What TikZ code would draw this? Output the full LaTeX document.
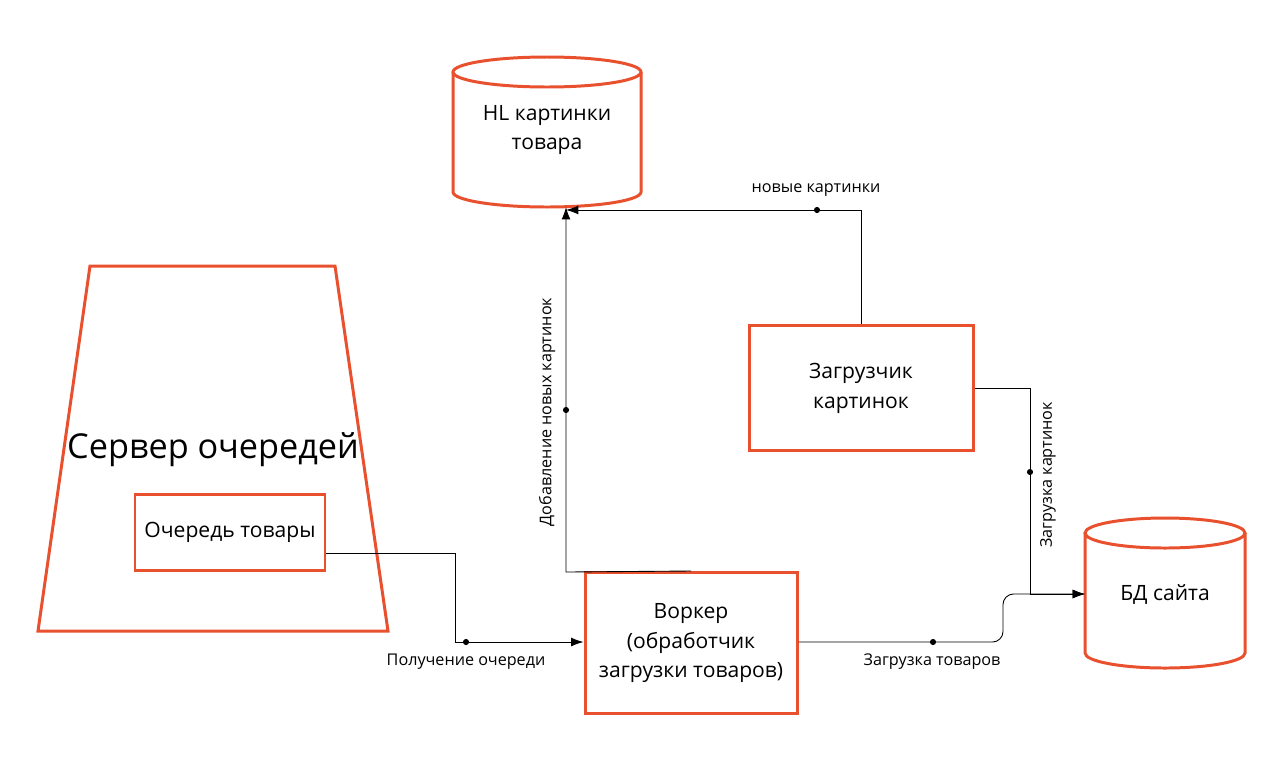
\documentclass[tikz,border=0pt]{standalone}
\usepackage{fontspec}
\setmainfont{Open Sans}
\usetikzlibrary{arrows.meta,positioning}
\definecolor{boxred}{HTML}{E8502E}
\tikzset{
  box/.style={draw=boxred, line width=1.7pt, align=center, font=\fontsize{12}{17}\selectfont},
  link/.style={draw=black, line width=0.5pt, -{Latex[length=7pt,width=5pt]}},
  lbl/.style={font=\fontsize{9.2}{11}\selectfont, inner sep=1pt},
  pin/.style={circle, fill=black, inner sep=0pt, minimum size=3.5pt}
}
\begin{document}
\begin{tikzpicture}[x=0.02cm,y=-0.02cm]
\useasboundingbox (0,0) rectangle (1280,778);
% server of queues
\draw [boxred, line width=1.7pt] (90,266) -- (335,266) -- (388,631) -- (38,631) -- cycle;
\node (server) at (213,450) {\fontsize{19.5}{24}\selectfont Сервер очередей};
\node [box, minimum width=190*0.02cm, minimum height=76*0.02cm] (queue) at (230,532) {Очередь товары};
% storages
\draw [boxred, line width=1.7pt] (453,72) -- (453,192) arc[start angle=180, end angle=0, x radius=94, y radius=15] -- (641,72);
\draw [boxred, line width=1.7pt] (547,72) ellipse [x radius=94, y radius=15];
\node [align=center, font=\fontsize{12}{17}\selectfont] (hl) at (547,130) {HL картинки\\товара};
\coordinate (hlb) at (566,207);
\draw [boxred, line width=1.7pt] (1085,533) -- (1085,653) arc[start angle=180, end angle=0, x radius=80, y radius=15] -- (1245,533);
\draw [boxred, line width=1.7pt] (1165,533) ellipse [x radius=80, y radius=15];
\node [font=\fontsize{12}{17}\selectfont] (db) at (1165,594) {БД сайта};
\coordinate (dbl) at (1085,594);
% processes
\node [box, minimum width=224*0.02cm, minimum height=125*0.02cm] (loader) at (861,388) {Загрузчик\\картинок};
\node [box, minimum width=212*0.02cm, minimum height=141*0.02cm] (worker) at (691,643) {Воркер\\(обработчик\\загрузки товаров)};
% links
\draw [link] (queue.east |- 0,553) -- (455,553) -- (455,642) -- (worker.west |- 0,642);
\node [pin] at (466,642) {};
\node [lbl] at (466,662) {Получение очереди};
\draw [link] (worker.north) -- (566,572) -- (hlb);
\node [pin] at (566,410) {};
\node [lbl, rotate=90] at (547,412) {Добавление новых картинок};
\draw [link] (loader.north) -- (861,210) -- (566,210);
\node [pin] at (817,210) {};
\node [lbl] at (816,190) {новые картинки};
\draw [link] (loader.east) -- (1030,388) -- (1030,594) -- (dbl);
\node [pin] at (1030,472) {};
\node [lbl, rotate=90] at (1048,475) {Загрузка картинок};
\draw [link, rounded corners=6pt] (worker.east |- 0,642) -- (1003,642) -- (1003,594) -- (dbl);
\node [pin] at (933,642) {};
\node [lbl] at (932,662) {Загрузка товаров};
\end{tikzpicture}
\end{document}
